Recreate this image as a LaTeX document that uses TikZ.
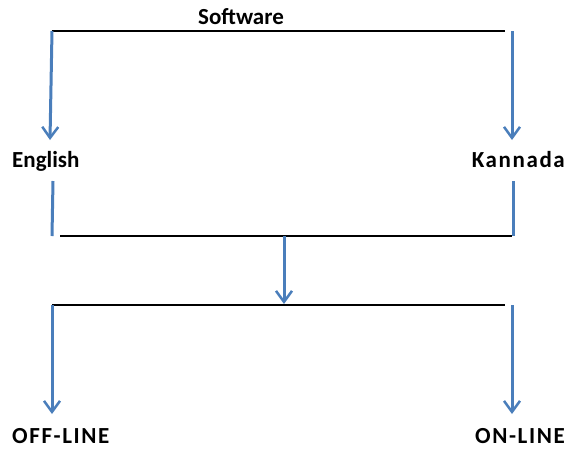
\documentclass[tikz,border=0pt]{standalone}
\usepackage{fontspec}
\setmainfont{Carlito}
\usetikzlibrary{arrows.meta,positioning}
\definecolor{flowblue}{RGB}{74,126,187}

\begin{document}
\begin{tikzpicture}[x=1pt,y=-1pt,
    bar/.style={line width=2pt,black},
    flow/.style={line width=3pt,flowblue,-{Straight Barb[length=11pt,width=16pt,line width=2.5pt]}},
    stem/.style={line width=3pt,flowblue},
    lbl/.style={font=\fontsize{23}{25}\selectfont\bfseries,inner sep=0pt},
    wide/.style={lbl,font=\fontsize{23}{25}\selectfont\bfseries\addfontfeature{LetterSpace=7}}]
  \useasboundingbox (0,0) rectangle (565,448);
  % top split
  \node[lbl,anchor=base] (software) at (241,24) {Software};
  \coordinate (t1) at (52,31);
  \coordinate (t2) at (505,31);
  \coordinate (t3) at (512,31);
  \coordinate (e1) at (50,140);
  \coordinate (k1) at (512,140);
  \draw[bar] (t1) -- (t2);
  \node[lbl,anchor=base west] (english) at (12,167) {English};
  \node[wide,anchor=base east] (kannada) at (565,167) {Kannada};
  \draw[flow] (t1) -- (e1);
  \draw[flow] (t3) -- (k1);
  % join
  \coordinate (e2) at (53,181);
  \coordinate (e3) at (52,236);
  \coordinate (k2) at (513,181);
  \coordinate (k3) at (513,236);
  \coordinate (m1) at (60,236);
  \coordinate (m2) at (512,236);
  \coordinate (mc) at (284,236);
  \coordinate (bc) at (284,304);
  \draw[stem] (e2) -- (e3);
  \draw[stem] (k2) -- (k3);
  \draw[bar] (m1) -- (m2);
  \draw[flow] (mc) -- (bc);
  % bottom split
  \coordinate (b1) at (52,305);
  \coordinate (b2) at (505,305);
  \coordinate (b3) at (512,305);
  \coordinate (o1) at (52,414);
  \coordinate (n1) at (512,414);
  \draw[bar] (b1) -- (b2);
  \node[wide,anchor=base west] (offline) at (12,443) {OFF-LINE};
  \node[wide,anchor=base east] (online) at (565,443) {ON-LINE};
  \draw[flow] (b1) -- (o1);
  \draw[flow] (b3) -- (n1);
\end{tikzpicture}
\end{document}
